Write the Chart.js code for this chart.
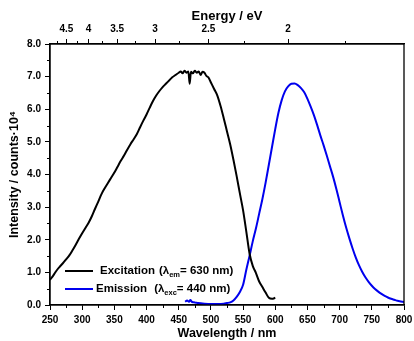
<!DOCTYPE html>
<html>
<head>
<meta charset="utf-8">
<script src="https://cdn.jsdelivr.net/npm/chart.js@4/dist/chart.umd.min.js"></script>
<style>
  html, body { margin: 0; padding: 0; background: #fff; }
  #c { display: block; }
</style>
</head>
<body>
<canvas id="c" width="414" height="341"></canvas>
<script>
// Excitation spectrum (monitored at 630 nm)
const excWavelength = [250,255,260,265,270,275,280,285,290,295,300,305,310,315,320,325,330,335,340,345,350,355,360,365,370,375,380,385,390,395,400,405,410,415,420,425,430,435,440,445,450,453,456,459,462,465,467,469,472,475,478,481,484,487,490,493,496,500,505,510,515,520,525,530,535,540,545,550,555,560,565,570,575,580,585,590,595,600];
const excIntensity = [0.77,0.90,1.05,1.17,1.28,1.40,1.52,1.68,1.85,2.03,2.20,2.36,2.52,2.72,2.95,3.17,3.40,3.58,3.74,3.90,4.06,4.24,4.42,4.58,4.76,4.93,5.08,5.24,5.45,5.65,5.84,6.05,6.25,6.42,6.56,6.68,6.78,6.88,6.98,7.05,7.12,7.16,7.10,7.18,7.12,7.16,6.78,7.15,7.10,7.18,7.12,7.16,7.05,7.15,7.12,7.02,6.98,6.82,6.62,6.42,6.10,5.72,5.32,4.92,4.45,3.95,3.42,2.90,2.25,1.58,1.20,0.98,0.72,0.55,0.38,0.22,0.19,0.22];

// Emission spectrum (excited at 440 nm)
const emWavelength = [460,463,466,468,471,475,480,490,500,510,520,525,530,535,540,545,550,555,560,565,570,575,580,585,590,595,600,605,610,615,620,625,630,635,640,645,650,655,660,665,670,675,680,685,690,695,700,705,710,715,720,725,730,735,740,745,750,755,760,765,770,775,780,785,790,795,800];
const emIntensity = [0.10,0.14,0.10,0.15,0.09,0.08,0.06,0.04,0.03,0.03,0.04,0.06,0.08,0.14,0.25,0.40,0.62,1.08,1.50,1.95,2.35,2.80,3.25,3.75,4.30,4.85,5.40,5.90,6.28,6.55,6.70,6.78,6.79,6.74,6.65,6.52,6.32,6.08,5.82,5.52,5.20,4.90,4.58,4.25,3.92,3.55,3.15,2.75,2.38,2.05,1.74,1.46,1.22,1.02,0.85,0.71,0.59,0.49,0.41,0.34,0.28,0.23,0.19,0.16,0.13,0.11,0.09];

// Photon energy axis (eV); wavelength in nm = 1240 / E
const energyMajor = [4.5, 4, 3.5, 3, 2.5, 2];
const energyMinor = [4.75, 4.25, 3.75, 3.25, 2.75, 2.25, 1.75];
const energyLabels = ['4.5', '4', '3.5', '3', '2.5', '2'];

const FONT = "'Liberation Sans', Arial, sans-serif";
const toPoints = (xs, ys) => xs.map((x, i) => ({ x, y: ys[i] }));

// Minor ticks, plot frame and the legend with subscripts
const decorations = {
  id: 'decorations',
  afterDraw(chart) {
    const { ctx, chartArea: a, scales } = chart;
    ctx.save();
    ctx.strokeStyle = '#000';
    ctx.lineWidth = 1;
    const minorLen = 3;
    ctx.beginPath();
    for (let w = 275; w < 800; w += 50) {
      const px = Math.round(scales.x.getPixelForValue(w)) + 0.5;
      ctx.moveTo(px, a.bottom); ctx.lineTo(px, a.bottom + minorLen);
    }
    for (let v = 0.5; v < 8; v += 1) {
      const py = Math.round(scales.y.getPixelForValue(v)) + 0.5;
      ctx.moveTo(a.left, py); ctx.lineTo(a.left - minorLen, py);
    }
    energyMinor.forEach(e => {
      const px = Math.round(scales.x2.getPixelForValue(1240 / e)) + 0.5;
      ctx.moveTo(px, a.top); ctx.lineTo(px, a.top - minorLen);
    });
    ctx.stroke();

    ctx.lineWidth = 1.3;
    ctx.strokeRect(a.left, a.top, a.right - a.left, a.bottom - a.top);

    // legend
    const entries = [
      { color: '#000', name: 'Excitation', sub: 'em', rest: '= 630 nm)', y: a.bottom - 34, gap: 7, paren: 4 },
      { color: '#0000ee', name: 'Emission', sub: 'exc', rest: '= 440 nm)', y: a.bottom - 16, gap: 3, paren: 7 }
    ];
    const x0 = a.left + 15;
    entries.forEach(en => {
      ctx.strokeStyle = en.color;
      ctx.lineWidth = 2;
      ctx.beginPath();
      ctx.moveTo(x0, en.y); ctx.lineTo(x0 + 28, en.y);
      ctx.stroke();
      ctx.fillStyle = '#000';
      ctx.textBaseline = 'middle';
      let x = x0 + 28 + en.gap;
      ctx.font = 'bold 11.5px ' + FONT;
      ctx.fillText(en.name, x, en.y);
      x += ctx.measureText(en.name).width + en.paren;
      ctx.fillText('(\u03bb', x, en.y);
      x += ctx.measureText('(\u03bb').width;
      ctx.font = 'bold 7.5px ' + FONT;
      ctx.fillText(en.sub, x, en.y + 4);
      x += ctx.measureText(en.sub).width;
      ctx.font = 'bold 11.5px ' + FONT;
      ctx.fillText(en.rest, x, en.y);
    });
    ctx.restore();
  }
};

const tickFont = { family: FONT, size: 10, weight: 'bold' };
const titleFont = { family: FONT, size: 12.5, weight: 'bold' };
const majorGrid = { drawOnChartArea: false, drawTicks: true, tickLength: 5, color: '#000', lineWidth: 1 };
const axisBorder = { display: true, color: '#000', width: 1.3 };

// fixed axis band sizes; edge labels may overhang into the margins
const fitHorizontal = h => s => { s.height = h; s.paddingLeft = 0; s.paddingRight = 0; };

new Chart(document.getElementById('c'), {
  type: 'line',
  data: {
    datasets: [
      {
        label: 'Excitation',
        data: toPoints(excWavelength, excIntensity),
        borderColor: '#000',
        borderWidth: 2,
        pointRadius: 0,
        cubicInterpolationMode: 'monotone',
        xAxisID: 'x', yAxisID: 'y'
      },
      {
        label: 'Emission',
        data: toPoints(emWavelength, emIntensity),
        borderColor: '#0000ee',
        borderWidth: 2,
        pointRadius: 0,
        cubicInterpolationMode: 'monotone',
        xAxisID: 'x', yAxisID: 'y'
      }
    ]
  },
  options: {
    responsive: false,
    devicePixelRatio: 1,
    animation: false,
    layout: { padding: { left: 0, right: 10, top: 0, bottom: 0 } },
    plugins: { legend: { display: false }, tooltip: { enabled: false } },
    scales: {
      x: {
        type: 'linear', position: 'bottom', min: 250, max: 800,
        afterFit: fitHorizontal(36),
        ticks: { stepSize: 50, font: tickFont, color: '#000', padding: 4, maxRotation: 0, autoSkip: false },
        grid: majorGrid, border: axisBorder,
        title: { display: true, text: 'Wavelength / nm', font: titleFont, color: '#000', padding: { top: 0, bottom: 0 } }
      },
      x2: {
        type: 'linear', position: 'top', min: 250, max: 800,
        afterFit: fitHorizontal(44),
        afterBuildTicks: s => { s.ticks = energyMajor.map(e => ({ value: 1240 / e })); },
        ticks: {
          font: tickFont, color: '#000', padding: 4, maxRotation: 0, autoSkip: false,
          callback: (v, i) => energyLabels[i]
        },
        grid: majorGrid, border: axisBorder,
        title: { display: true, text: 'Energy / eV', font: { family: FONT, size: 13, weight: 'bold' }, color: '#000', padding: { top: 9, bottom: 0 } }
      },
      y: {
        type: 'linear', position: 'left', min: 0, max: 8,
        afterFit: s => { s.width = 50; s.paddingTop = 0; s.paddingBottom = 0; },
        ticks: { stepSize: 1, font: tickFont, color: '#000', padding: 4, callback: v => v.toFixed(1) },
        grid: majorGrid, border: axisBorder,
        title: { display: true, text: 'Intensity / counts\u00b710\u2074', font: titleFont, color: '#000', padding: { top: 7, bottom: 0 } }
      }
    }
  },
  plugins: [decorations]
});
</script>
</body>
</html>
